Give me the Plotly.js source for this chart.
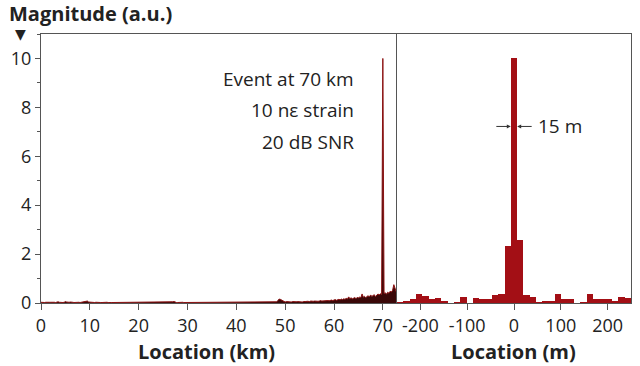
<!DOCTYPE html>
<html>
<head>
<meta charset="utf-8">
<script src="https://cdn.plot.ly/plotly-3.0.1.min.js"></script>
<style>html,body{margin:0;padding:0;background:#fff;}#chart{width:640px;height:366px;}</style>
</head>
<body>
<div id="chart"></div>
<script>
// Left panel: magnitude along fibre, sampled every 0.25 km from 0 km
const kmStep = 0.25;
const leftMagnitude = [
 0.03,0.02,0.03,0.02, 0.03,0.02,0.02,0.03, 0.03,0.04,0.05,0.03, 0.02,0.04,0.05,0.03, 0.02,0.03,0.02,0.03,
 0.06,0.04,0.02,0.03, 0.04,0.05,0.03,0.02, 0.03,0.02,0.02,0.03, 0.02,0.03,0.02,0.03, 0.04,0.07,0.08,0.04,
 0.03,0.02,0.03,0.02, 0.02,0.03,0.02,0.02, 0.03,0.02,0.02,0.03, 0.02,0.02,0.03,0.02, 0.03,0.02,0.02,0.02,
 0.02,0.03,0.02,0.03, 0.02,0.02,0.03,0.02, 0.02,0.03,0.02,0.02, 0.03,0.04,0.03,0.02, 0.02,0.03,0.02,0.02,
 0.02,0.02,0.03,0.02, 0.03,0.02,0.02,0.03, 0.02,0.03,0.02,0.02, 0.02,0.02,0.03,0.02, 0.03,0.04,0.03,0.02,
 0.02,0.02,0.03,0.02, 0.02,0.03,0.02,0.03, 0.05,0.06,0.03,0.02, 0.02,0.03,0.02,0.02, 0.03,0.02,0.02,0.03,
 0.02,0.02,0.03,0.02, 0.02,0.03,0.02,0.02, 0.03,0.02,0.02,0.03, 0.02,0.02,0.03,0.02, 0.03,0.02,0.02,0.02,
 0.02,0.03,0.04,0.02, 0.02,0.02,0.03,0.02, 0.03,0.02,0.02,0.03, 0.02,0.03,0.02,0.02, 0.03,0.02,0.03,0.02,
 0.02,0.03,0.02,0.03, 0.03,0.02,0.03,0.02, 0.02,0.03,0.03,0.02, 0.03,0.02,0.03,0.03, 0.02,0.03,0.03,0.02,
 0.03,0.03,0.02,0.03, 0.03,0.04,0.03,0.03, 0.03,0.04,0.03,0.04, 0.04,0.05,0.10,0.16, 0.15,0.12,0.08,0.05,
 0.04,0.06,0.05,0.04, 0.05,0.04,0.06,0.05, 0.04,0.05,0.06,0.05, 0.06,0.05,0.04,0.06, 0.05,0.06,0.07,0.05,
 0.06,0.08,0.06,0.07, 0.08,0.07,0.09,0.07, 0.08,0.10,0.08,0.09, 0.10,0.09,0.11,0.10, 0.09,0.11,0.12,0.10,
 0.12,0.14,0.11,0.13, 0.15,0.13,0.16,0.14, 0.17,0.15,0.19,0.16, 0.25,0.18,0.21,0.17, 0.20,0.22,0.18,0.23,
 0.21,0.24,0.22,0.37, 0.24,0.27,0.22,0.28, 0.30,0.25,0.33,0.27, 0.29,0.34,0.26,0.31, 0.37,0.33,0.38,0.35,
 10.0,0.39,0.42,0.36, 0.44,0.40,0.48,0.45, 0.52,0.75,0.55,0.45
];
// Right panel: zoom around the event, bins of 13.5 m
const binWidth = 13.5;
const rightMagnitude = [
 0.05,0.08,0.15,0.38,0.30,0.16,0.19,0.10,0.01,0.05,0.26,0.00,0.22,0.15,0.15,0.34,0.37,
 2.34,10.0,2.56,
 0.34,0.23,0.06,0.07,0.10,0.38,0.15,0.15,0.02,0.04,0.38,0.15,0.15,0.15,0.10,0.25,0.20
];
const leftTicks = [0,10,20,30,40,50,60,70];
const rightTicks = [-200,-100,0,100,200];
const noteLines = ["Event at 70 km","10 nε strain","20 dB SNR"];

const leftKm = leftMagnitude.map((_, i) => i * kmStep);
const half = (rightMagnitude.length - 1) / 2;
const rightM = rightMagnitude.map((_, i) => (i - half) * binWidth);

const FONT = "Open Sans, Noto Sans, sans-serif";
const AX = "#555";

const traces = [
  {type:'scatter', mode:'lines', x:leftKm, y:leftMagnitude, xaxis:'x', yaxis:'y',
   line:{color:'#8c1212', width:1}, fill:'tozeroy', fillcolor:'#3a0808', hoverinfo:'skip'},
  {type:'bar', x:rightM, y:rightMagnitude, xaxis:'x2', yaxis:'y2', width:binWidth,
   marker:{color:'#a30f15', line:{width:0}}, hoverinfo:'skip'}
];

const L = 41, R = 631, T = 34, B = 303;
const px = v => (v - L) / (R - L);
const py = v => (B - v) / (B - T);

const axisCommon = {showline:true, linecolor:AX, linewidth:1, mirror:true, zeroline:false, showgrid:false,
  ticks:'outside', ticklen:6, tickcolor:AX, tickfont:{family:FONT, size:18, color:'#222'}};

const layout = {
  width:640, height:366,
  margin:{l:L, r:640-R, t:T, b:366-B},
  paper_bgcolor:'#fff', plot_bgcolor:'#fff',
  showlegend:false, bargap:0,
  xaxis: Object.assign({}, axisCommon, {domain:[0, px(397)], range:[0, 72.9], tickvals:leftTicks, anchor:'y'}),
  yaxis: Object.assign({}, axisCommon, {range:[0, 11], dtick:2, tick0:0, ticklen:5, anchor:'x', mirror:false,
     minor:{dtick:1, ticklen:3, tickcolor:AX, ticks:'outside'}}),
  xaxis2: Object.assign({}, axisCommon, {domain:[px(397), 1], range:[-250, 250], tickvals:rightTicks,
     ticktext:rightTicks.map(String), anchor:'y2'}),
  yaxis2: Object.assign({}, axisCommon, {range:[0, 11], anchor:'x2', ticks:'', showticklabels:false}),
  annotations: [
    {xref:'paper', yref:'paper', x:px(7), y:py(13), xanchor:'left', yanchor:'middle', showarrow:false,
     text:'<b>Magnitude (a.u.)</b>', font:{family:FONT, size:20, color:'#222'}},
    {xref:'paper', yref:'paper', x:px(20.5), y:py(34), xanchor:'center', yanchor:'middle', showarrow:false,
     text:'▼', font:{family:'DejaVu Sans', size:14, color:'#222'}},
    {xref:'paper', yref:'paper', x:px(206), y:py(351), xanchor:'center', yanchor:'middle', showarrow:false,
     text:'<b>Location (km)</b>', font:{family:FONT, size:20, color:'#222'}},
    {xref:'paper', yref:'paper', x:px(513), y:py(351), xanchor:'center', yanchor:'middle', showarrow:false,
     text:'<b>Location (m)</b>', font:{family:FONT, size:20, color:'#222'}},
    ...noteLines.map((t, i) => ({xref:'x', yref:'y', x:64.6, y:[9.18, 7.88, 6.57][i], xanchor:'right', yanchor:'middle',
     showarrow:false, text:t, font:{family:FONT, size:19, color:'#222'}})),
    {xref:'x2', yref:'y2', x:47, y:7.22, xanchor:'left', yanchor:'middle', showarrow:false,
     text:'15 m', font:{family:FONT, size:19, color:'#222'}},
    {xref:'x2', yref:'y2', x:-binWidth/2, y:7.22, ax:-16, ay:0, showarrow:true, text:'',
     arrowhead:2, arrowsize:0.8, arrowwidth:1, arrowcolor:'#333', standoff:0},
    {xref:'x2', yref:'y2', x:binWidth/2, y:7.22, ax:16, ay:0, showarrow:true, text:'',
     arrowhead:2, arrowsize:0.8, arrowwidth:1, arrowcolor:'#333', standoff:0}
  ]
};

Plotly.newPlot('chart', traces, layout, {staticPlot:true, displayModeBar:false});
</script>
</body>
</html>
